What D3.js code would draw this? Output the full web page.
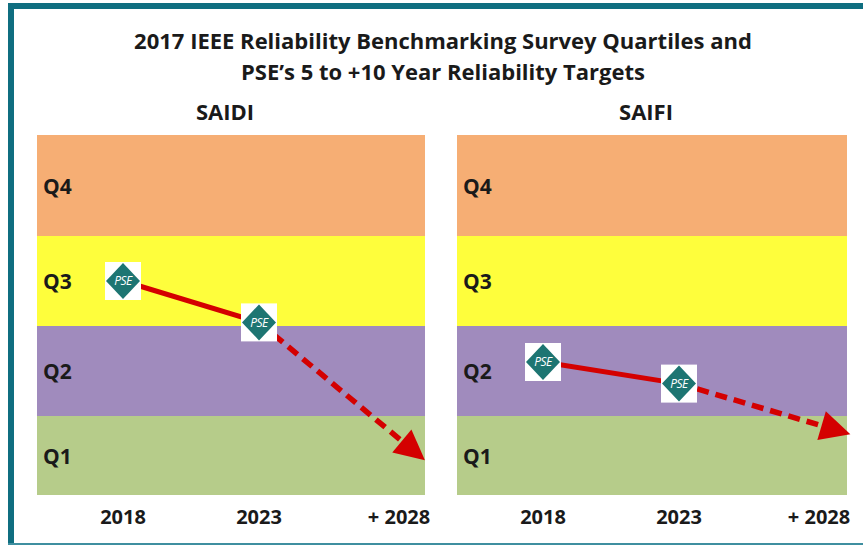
<!DOCTYPE html>
<html>
<head>
<meta charset="utf-8">
<script src="https://cdn.jsdelivr.net/npm/d3@7"></script>
<style>
  body { margin: 0; background: #fff; }
  svg { display: block; }
  text { font-family: "Liberation Sans Narrow", "Open Sans", sans-serif; font-weight: bold; fill: #1a1a1a; }
</style>
</head>
<body>
<svg id="viz"></svg>
<script>
var width = 863;
var height = 546;

// quartile bands, bottom to top
var quartiles = ["Q1", "Q2", "Q3", "Q4"];
var bandColors = ["#b6cc8a", "#a08bbd", "#fefe3c", "#f6ae74"];

// x axis
var tickYears = [2018, 2023, 2028];
var tickLabels = ["2018", "2023", "+ 2028"];

// PSE targets: year and quartile position (0 = bottom of Q1, 4 = top of Q4)
var saidiYears = [2018, 2023, 2029.1];
var saidiLevels = [2.5, 2.04, 0.44];
var saifiYears = [2018, 2023, 2029.3];
var saifiLevels = [1.6, 1.36, 0.77];

var titleLines = [
  "2017 IEEE Reliability Benchmarking Survey Quartiles and",
  "PSE\u2019s 5 to +10 Year Reliability Targets"
];

var panels = [
  { name: "SAIDI", x0: 37, w: 388, years: saidiYears, levels: saidiLevels },
  { name: "SAIFI", x0: 457, w: 390, years: saifiYears, levels: saifiLevels }
];

var svg = d3.select("#viz").attr("width", width).attr("height", height);

// frame
svg.append("rect").attr("x", 0).attr("y", 0).attr("width", width).attr("height", height).attr("fill", "#fff");
svg.append("rect").attr("x", 8).attr("y", 3).attr("width", width - 8).attr("height", 6).attr("fill", "#0f6e80");
svg.append("rect").attr("x", 8).attr("y", 3).attr("width", 6).attr("height", 540).attr("fill", "#0f6e80");
svg.append("rect").attr("x", 8).attr("y", 543).attr("width", width - 8).attr("height", 2).attr("fill", "#3f8fa0");

svg.append("g").selectAll("text")
  .data(titleLines)
  .join("text")
  .attr("x", 443)
  .attr("y", (d, i) => 49 + i * 31)
  .attr("text-anchor", "middle")
  .style("font-size", "22px")
  .text(d => d);

// piecewise scale: quartile boundaries to pixels
var y = d3.scaleLinear().domain([0, 1, 2, 3, 4]).range([495, 416, 326, 236, 135]);
var x = d3.scaleLinear().domain([2018, 2028]).range([86, 358]);

var red = "#d40000";

panels.forEach(function (p) {
  var g = svg.append("g").attr("transform", `translate(${p.x0},0)`);

  g.append("text")
    .attr("x", p.w / 2 - 6)
    .attr("y", 120)
    .attr("text-anchor", "middle")
    .style("font-size", "22px")
    .text(p.name);

  g.append("g").selectAll("rect")
    .data(quartiles)
    .join("rect")
    .attr("x", 0)
    .attr("width", p.w)
    .attr("y", (d, i) => y(i + 1))
    .attr("height", (d, i) => y(i) - y(i + 1))
    .attr("fill", (d, i) => bandColors[i]);

  g.append("g").selectAll("text")
    .data(quartiles)
    .join("text")
    .attr("x", 6)
    .attr("y", (d, i) => (y(i) + y(i + 1)) / 2 + 1)
    .attr("dy", "0.35em")
    .style("font-size", "21px")
    .text(d => d);

  // x labels
  g.append("g").selectAll("text")
    .data(tickYears)
    .join("text")
    .attr("x", d => x(d) + (d === 2028 ? 4 : 0))
    .attr("y", 517)
    .attr("dy", "0.35em")
    .attr("text-anchor", "middle")
    .style("font-size", "20px")
    .text((d, i) => tickLabels[i]);

  var pts = p.years.map((yr, i) => [x(yr), y(p.levels[i])]);

  // solid segment
  g.append("line")
    .attr("x1", pts[0][0]).attr("y1", pts[0][1])
    .attr("x2", pts[1][0]).attr("y2", pts[1][1])
    .attr("stroke", red)
    .attr("stroke-width", 5);

  // dashed segment + arrow head
  var dx = pts[2][0] - pts[1][0], dy = pts[2][1] - pts[1][1];
  var len = Math.hypot(dx, dy);
  var ux = dx / len, uy = dy / len;
  var headLen = 30, headW = 15;
  var bx = pts[2][0] - ux * headLen, by = pts[2][1] - uy * headLen;
  g.append("line")
    .attr("x1", pts[1][0]).attr("y1", pts[1][1])
    .attr("x2", bx + ux * 4).attr("y2", by + uy * 4)
    .attr("stroke", red)
    .attr("stroke-width", 5.5)
    .attr("stroke-dasharray", "12,7");
  g.append("path")
    .attr("d", `M${pts[2][0]},${pts[2][1]}L${bx - uy * headW},${by + ux * headW}L${bx + uy * headW},${by - ux * headW}Z`)
    .attr("fill", red);

  // PSE icons
  var icon = g.append("g").selectAll("g")
    .data(pts.slice(0, 2))
    .join("g")
    .attr("transform", d => `translate(${d[0]},${d[1]})`);
  icon.append("rect")
    .attr("x", -18).attr("y", -19)
    .attr("width", 36).attr("height", 38)
    .attr("fill", "#fff");
  icon.append("path")
    .attr("d", "M0,-18L17,0L0,18L-17,0Z")
    .attr("fill", "#1d7572");
  icon.append("text")
    .attr("x", 0)
    .attr("y", 0)
    .attr("dy", "0.35em")
    .attr("text-anchor", "middle")
    .style("font-size", "12px")
    .style("font-weight", "normal")
    .style("font-style", "italic")
    .style("letter-spacing", "-0.5px")
    .style("fill", "#fff")
    .text("PSE");
});
</script>
</body>
</html>
